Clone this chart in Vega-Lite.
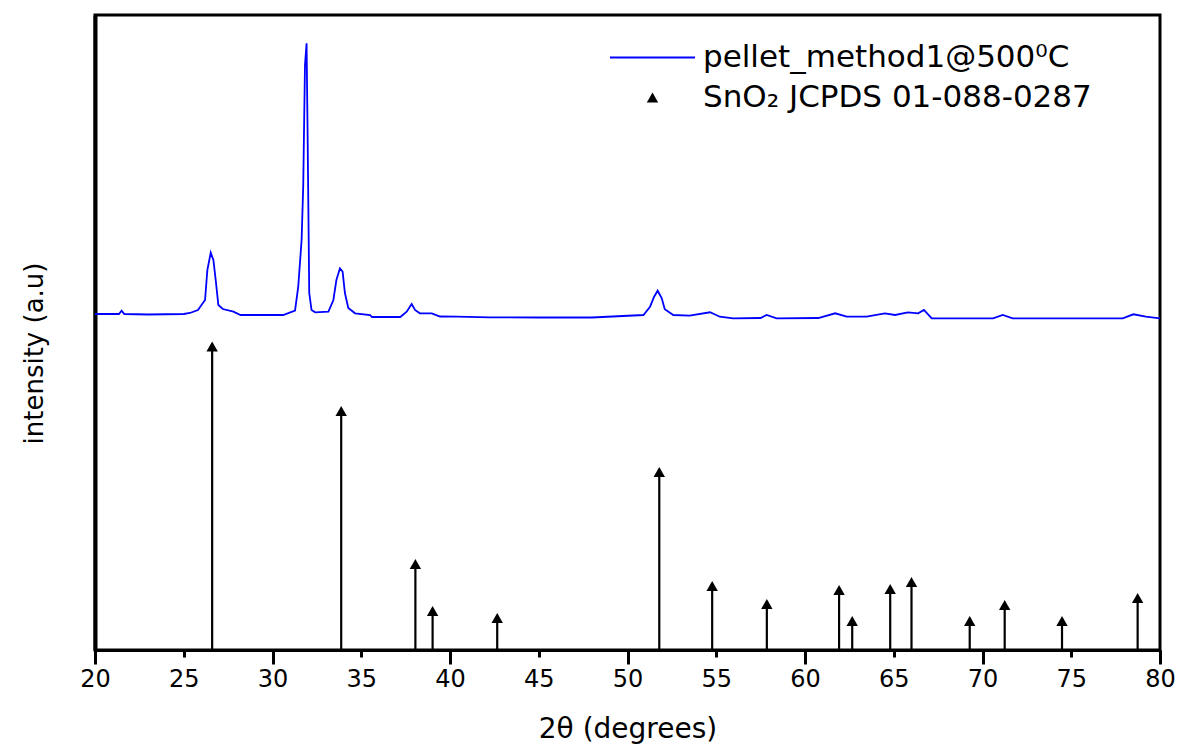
{
  "$schema": "https://vega.github.io/schema/vega-lite/v6.json",
  "width": 1065,
  "height": 635,
  "autosize": {"type": "none"},
  "padding": {"left": 95, "top": 15, "right": 21, "bottom": 96},
  "background": "white",
  "config": {
    "view": {"stroke": "black", "strokeWidth": 3},
    "font": "DejaVu Sans"
  },
  "datasets": {
    "xrd": [
      {"t": 20.0, "i": 336}, {"t": 21.0, "i": 336}, {"t": 21.35, "i": 336}, {"t": 21.5, "i": 339.3},
      {"t": 21.65, "i": 336}, {"t": 23.0, "i": 335.5}, {"t": 25.0, "i": 336}, {"t": 25.35, "i": 337},
      {"t": 25.8, "i": 340}, {"t": 26.2, "i": 350}, {"t": 26.33, "i": 380}, {"t": 26.52, "i": 397.3},
      {"t": 26.67, "i": 390}, {"t": 26.8, "i": 370}, {"t": 26.95, "i": 345}, {"t": 27.2, "i": 341},
      {"t": 27.8, "i": 338.3}, {"t": 28.2, "i": 335}, {"t": 30.6, "i": 335}, {"t": 31.27, "i": 339.3},
      {"t": 31.45, "i": 363.3}, {"t": 31.64, "i": 410}, {"t": 31.73, "i": 463.3}, {"t": 31.83, "i": 585},
      {"t": 31.92, "i": 606.7}, {"t": 31.98, "i": 512}, {"t": 32.07, "i": 357}, {"t": 32.2, "i": 340},
      {"t": 32.4, "i": 337.7}, {"t": 33.15, "i": 338.3}, {"t": 33.43, "i": 350}, {"t": 33.6, "i": 370},
      {"t": 33.8, "i": 381.7}, {"t": 33.95, "i": 378.3}, {"t": 34.08, "i": 357}, {"t": 34.27, "i": 342},
      {"t": 34.65, "i": 336.7}, {"t": 35.5, "i": 335}, {"t": 35.6, "i": 333}, {"t": 37.2, "i": 333},
      {"t": 37.56, "i": 338.3}, {"t": 37.84, "i": 346}, {"t": 38.03, "i": 340}, {"t": 38.3, "i": 336.7},
      {"t": 38.97, "i": 336.7}, {"t": 39.44, "i": 333.5}, {"t": 40.38, "i": 333.3}, {"t": 42.25, "i": 332.7},
      {"t": 45.0, "i": 332.5}, {"t": 48.0, "i": 332.5}, {"t": 50.9, "i": 335}, {"t": 51.27, "i": 343.3},
      {"t": 51.5, "i": 353.3}, {"t": 51.7, "i": 359.3}, {"t": 51.93, "i": 351.7}, {"t": 52.1, "i": 340.7},
      {"t": 52.58, "i": 335}, {"t": 53.5, "i": 334.3}, {"t": 54.65, "i": 337.7}, {"t": 55.2, "i": 333.3},
      {"t": 55.95, "i": 331.7}, {"t": 57.5, "i": 332}, {"t": 57.84, "i": 335}, {"t": 58.4, "i": 331.7},
      {"t": 60.75, "i": 332}, {"t": 61.7, "i": 336.7}, {"t": 62.35, "i": 333.3}, {"t": 63.47, "i": 333.3},
      {"t": 64.5, "i": 336.7}, {"t": 65.07, "i": 335}, {"t": 65.8, "i": 337.7}, {"t": 66.38, "i": 336.7},
      {"t": 66.7, "i": 340}, {"t": 67.14, "i": 331.7}, {"t": 70.6, "i": 331.7}, {"t": 71.14, "i": 335},
      {"t": 71.7, "i": 331.7}, {"t": 77.9, "i": 331.7}, {"t": 78.5, "i": 335.7}, {"t": 79.2, "i": 333.3},
      {"t": 80.0, "i": 331.7}
    ],
    "ref": [
      {"t": 26.6, "i": 303.5}, {"t": 33.87, "i": 239}, {"t": 38.05, "i": 86}, {"t": 39.02, "i": 39},
      {"t": 42.66, "i": 32}, {"t": 51.79, "i": 178}, {"t": 54.77, "i": 64}, {"t": 57.85, "i": 46},
      {"t": 61.92, "i": 60}, {"t": 62.66, "i": 29}, {"t": 64.8, "i": 61}, {"t": 66.0, "i": 68},
      {"t": 69.28, "i": 29}, {"t": 71.25, "i": 45}, {"t": 74.48, "i": 29}, {"t": 78.74, "i": 52}
    ]
  },
  "resolve": {"axis": {"x": "independent"}},
  "layer": [
    {
      "data": {"name": "xrd"},
      "mark": {"type": "line", "strokeWidth": 1.8, "interpolate": "linear"},
      "encoding": {
        "x": {
          "field": "t", "type": "quantitative",
          "scale": {"domain": [20, 80], "nice": false, "zero": false},
          "axis": {
            "orient": "bottom",
            "title": "2θ (degrees)",
            "values": [20, 25, 30, 35, 40, 45, 50, 55, 60, 65, 70, 75, 80],
            "grid": false,
            "domainColor": "black", "domainWidth": 3,
            "tickColor": "black", "tickWidth": 3, "tickSize": 7,
            "labelFont": "DejaVu Sans", "labelFontSize": 24, "labelColor": "black",
            "labelPadding": 10, "labelFlush": false,
            "titleFont": "DejaVu Sans", "titleFontSize": 28, "titleFontWeight": "normal",
            "titleColor": "black", "titlePadding": 24
          }
        },
        "y": {
          "field": "i", "type": "quantitative",
          "scale": {"domain": [0, 635], "nice": false},
          "axis": {
            "title": "intensity (a.u)",
            "labels": false, "ticks": false, "grid": false,
            "domainColor": "black", "domainWidth": 4,
            "titleFont": "DejaVu Sans", "titleFontSize": 26, "titleFontWeight": "normal",
            "titleColor": "black", "titlePadding": 48, "titleY": 338
          }
        },
        "color": {
          "datum": "pellet_method1@500⁰C",
          "scale": {"range": ["#0000ff"]},
          "legend": {
            "title": null,
            "orient": "none",
            "legendX": 514,
            "legendY": -1,
            "padding": 0,
            "symbolType": "stroke",
            "symbolSize": 7225,
            "symbolStrokeWidth": 2,
            "labelOffset": 7,
            "labelFont": "DejaVu Sans",
            "labelFontSize": 31,
            "labelColor": "black",
            "labelLimit": 600
          }
        }
      }
    },
    {
      "data": {"name": "ref"},
      "mark": {"type": "rule", "color": "black", "strokeWidth": 2.2},
      "encoding": {
        "x": {
          "field": "t", "type": "quantitative",
          "axis": {
            "orient": "bottom",
            "values": [20, 30, 40, 50, 60, 70, 80],
            "title": null, "labels": false, "domain": false, "grid": false,
            "tickColor": "black", "tickWidth": 3, "tickSize": 14
          }
        },
        "y": {"field": "i", "type": "quantitative"},
        "y2": {"datum": 0}
      }
    },
    {
      "data": {"name": "ref"},
      "mark": {"type": "point", "filled": true, "color": "black", "opacity": 1, "size": 130},
      "encoding": {
        "x": {"field": "t", "type": "quantitative", "axis": null},
        "y": {"field": "i", "type": "quantitative"},
        "shape": {
          "datum": "SnO₂ JCPDS 01-088-0287",
          "scale": {"range": ["triangle-up"]},
          "legend": {
            "title": null,
            "orient": "none",
            "legendX": 542,
            "legendY": 67,
            "padding": 0,
            "symbolSize": 130,
            "symbolFillColor": "black",
            "symbolStrokeWidth": 0,
            "labelOffset": 35,
            "labelFont": "DejaVu Sans",
            "labelFontSize": 31,
            "labelColor": "black",
            "labelLimit": 600
          }
        }
      }
    }
  ]
}
